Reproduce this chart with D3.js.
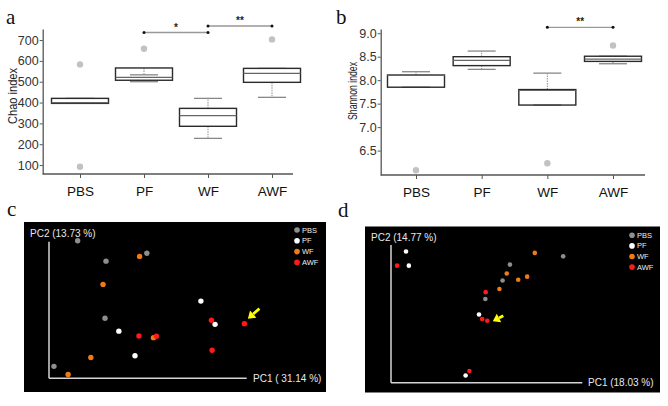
<!DOCTYPE html>
<html><head><meta charset="utf-8">
<script src="https://cdn.jsdelivr.net/npm/d3@7"></script>
<style>body{margin:0;background:#fff}svg{display:block}</style>
</head><body>
<svg id="chart" width="668" height="406"></svg>
<script>
// ---------- DATA ----------
const groups = ["PBS", "PF", "WF", "AWF"];

// Panel a: Chao index box statistics
const chaoTicks = [100, 200, 300, 400, 500, 600, 700];
const chaoWhiskerLow  = [396, 500, 228, 425];
const chaoQ1          = [396, 507, 286, 497];
const chaoMedian      = [400, 521, 337, 540];
const chaoQ3          = [420, 566, 372, 564];
const chaoWhiskerHigh = [420, 533, 420, 564];
const chaoOutliers    = [[583, 92], [658], [], [703]];

// Panel b: Shannon index box statistics
const shannonTicks = [6.5, 7.0, 7.5, 8.0, 8.5, 9.0];
const shannonWhiskerLow  = [7.85, 8.23, 7.47, 8.35];
const shannonQ1          = [7.85, 8.31, 7.47, 8.40];
const shannonMedian      = [8.10, 8.42, 7.78, 8.45];
const shannonQ3          = [8.11, 8.50, 7.80, 8.51];
const shannonWhiskerHigh = [8.18, 8.62, 8.15, 8.51];
const shannonOutliers    = [[6.08], [], [6.23], [8.74]];

// Panel c: PCA scores (PC1, PC2)
const pcaC_PBS = [[-0.213, 0.203], [-0.003, 0.166], [-0.127, 0.143], [-0.130, -0.024], [-0.285, -0.165]];
const pcaC_PF  = [[0.161, 0.026], [0.204, -0.042], [-0.088, -0.062], [-0.039, -0.134]];
const pcaC_WF  = [[-0.025, 0.157], [-0.136, 0.075], [0.017, -0.081], [-0.173, -0.139], [-0.242, -0.189]];
const pcaC_AWF = [[0.193, -0.030], [0.293, -0.040], [-0.027, -0.076], [0.026, -0.077], [0.195, -0.118]];
const pcaC_labels = ["PC1 ( 31.14 %)", "PC2 (13.73 %)"];

// Panel d: PCA scores (PC1, PC2)
const pcaD_PBS = [[0.240, 0.167], [0.073, 0.143], [0.050, 0.097], [-0.004, 0.043]];
const pcaD_PF  = [[-0.253, 0.181], [-0.244, 0.140], [-0.024, -0.002], [-0.066, -0.179]];
const pcaD_WF  = [[0.151, 0.177], [0.063, 0.117], [0.127, 0.108], [0.099, 0.099], [0.040, 0.072]];
const pcaD_AWF = [[-0.281, 0.140], [-0.003, 0.063], [-0.014, -0.015], [0.002, -0.020], [-0.054, -0.166]];
const pcaD_labels = ["PC1 (18.03 %)", "PC2 (14.77 %)"];

const groupColors = ["#8e8e8e", "#ffffff", "#ef7b17", "#ff1a1a"];

// ---------- DRAW ----------
const svg = d3.select("#chart");
svg.append("rect").attr("width", 668).attr("height", 406).attr("fill", "#fff");
const SANS = "Arial, 'Liberation Sans', sans-serif";
const SERIF = "'Times New Roman', 'Liberation Serif', serif";

function panelLabel(txt, x, y) {
  svg.append("text").attr("x", x).attr("y", y).text(txt)
    .attr("font-family", SERIF).attr("font-size", 21).attr("fill", "#111");
}

function boxPanel(o) {
  const g = svg.append("g");
  const x = d3.scalePoint().domain(groups).range(o.xRange);
  const y = d3.scaleLinear().domain(o.yDomain).range(o.yRange);
  const axisCol = "#555";
  const ya = g.append("g").attr("transform", `translate(${o.axisX},0)`)
    .call(d3.axisLeft(y).tickValues(o.ticks).tickSize(3).tickSizeOuter(0).tickPadding(1).tickFormat(o.fmt));
  ya.select(".domain").attr("stroke", axisCol).attr("stroke-width", 1.3);
  ya.selectAll(".tick line").attr("stroke", axisCol);
  ya.selectAll(".tick text").attr("font-family", SANS).attr("font-size", 12.5).attr("fill", "#333");
  const baseY = o.yRange[0];
  g.append("line").attr("x1", o.axisX).attr("x2", o.axisEnd).attr("y1", baseY).attr("y2", baseY)
    .attr("stroke", axisCol).attr("stroke-width", 1.3);
  const xa = g.append("g").attr("transform", `translate(0,${baseY})`)
    .call(d3.axisBottom(x).tickSize(4).tickPadding(8));
  xa.select(".domain").remove();
  xa.selectAll(".tick line").attr("stroke", axisCol);
  xa.selectAll(".tick text").attr("font-family", SANS).attr("font-size", 13.5).attr("fill", "#111");
  g.append("text").attr("transform", `translate(${o.labelX},${o.labelY}) rotate(-90)`)
    .attr("text-anchor", "middle").attr("dominant-baseline", "central")
    .attr("font-family", SANS).attr("font-size", o.labelSize).attr("fill", "#222")
    .attr("textLength", o.labelLen).attr("lengthAdjust", "spacingAndGlyphs").text(o.label);

  const hw = 28.5, cw = 14;
  groups.forEach((grp, i) => {
    const cx = x(grp);
    g.append("line").attr("x1", cx).attr("x2", cx).attr("y1", y(o.q3[i])).attr("y2", y(o.wHigh[i]))
      .attr("stroke", "#999").attr("stroke-dasharray", "1.5,1").attr("stroke-width", 1.1);
    g.append("line").attr("x1", cx).attr("x2", cx).attr("y1", y(o.q1[i])).attr("y2", y(o.wLow[i]))
      .attr("stroke", "#999").attr("stroke-dasharray", "1.5,1").attr("stroke-width", 1.1);
    [o.wLow[i], o.wHigh[i]].forEach(v => {
      g.append("line").attr("x1", cx - cw).attr("x2", cx + cw).attr("y1", y(v)).attr("y2", y(v))
        .attr("stroke", "#888").attr("stroke-width", 1.3);
    });
    g.append("rect").attr("x", cx - hw).attr("width", 2 * hw)
      .attr("y", y(o.q3[i])).attr("height", Math.max(1, y(o.q1[i]) - y(o.q3[i])))
      .attr("fill", "none").attr("stroke", "#2a2a2a").attr("stroke-width", 1.4);
    g.append("line").attr("x1", cx - hw).attr("x2", cx + hw).attr("y1", y(o.med[i])).attr("y2", y(o.med[i]))
      .attr("stroke", "#666").attr("stroke-width", 1.2);
    o.out[i].forEach(v => {
      g.append("circle").attr("cx", cx).attr("cy", y(v)).attr("r", 3.2).attr("fill", "#c2c2c2");
    });
  });
  o.sig.forEach(s => {
    const x1 = x(s.a), x2 = x(s.b);
    g.append("line").attr("x1", x1).attr("x2", x2).attr("y1", s.y).attr("y2", s.y)
      .attr("stroke", "#999").attr("stroke-width", 1.3);
    [x1, x2].forEach(xx => g.append("circle").attr("cx", xx).attr("cy", s.y).attr("r", 1.5).attr("fill", "#111"));
    g.append("text").attr("x", (x1 + x2) / 2).attr("y", s.y - 2).attr("text-anchor", "middle")
      .attr("font-family", SANS).attr("font-size", 10).attr("font-weight", "bold").attr("fill", "#222").text(s.t);
  });
}

boxPanel({
  xRange: [80, 272], yDomain: [57, 753], yRange: [174, 29], axisX: 42.7, axisEnd: 293,
  ticks: chaoTicks, fmt: d3.format("d"),
  q1: chaoQ1, med: chaoMedian, q3: chaoQ3, wLow: chaoWhiskerLow, wHigh: chaoWhiskerHigh, out: chaoOutliers,
  label: "Chao index", labelX: 12.5, labelY: 96, labelLen: 56, labelSize: 12.5,
  sig: [{a: "PF", b: "WF", y: 32.5, t: "*"}, {a: "WF", b: "AWF", y: 26, t: "**"}]
});
boxPanel({
  xRange: [416, 613], yDomain: [5.98, 9.09], yRange: [175, 29], axisX: 380.7, axisEnd: 645,
  ticks: shannonTicks, fmt: d3.format(".1f"),
  q1: shannonQ1, med: shannonMedian, q3: shannonQ3, wLow: shannonWhiskerLow, wHigh: shannonWhiskerHigh, out: shannonOutliers,
  label: "Shannon index", labelX: 352.5, labelY: 91, labelLen: 58, labelSize: 12,
  sig: [{a: "WF", b: "AWF", y: 27.3, t: "**"}]
});

panelLabel("a", 6, 24);
panelLabel("b", 336, 24);
panelLabel("c", 7, 216);
panelLabel("d", 338, 217);

function arrow(g, tipX, tipY, tailX, tailY) {
  const dx = tipX - tailX, dy = tipY - tailY, L = Math.hypot(dx, dy);
  const ux = dx / L, uy = dy / L, px = -uy, py = ux;
  const hl = 7, hw = 4.8;
  const bx = tipX - ux * hl, by = tipY - uy * hl;
  g.append("line").attr("x1", tailX).attr("y1", tailY).attr("x2", bx).attr("y2", by)
    .attr("stroke", "#ffff00").attr("stroke-width", 2.8);
  g.append("path").attr("d", `M${tipX},${tipY}L${bx + px * hw},${by + py * hw}L${bx - px * hw},${by - py * hw}Z`)
    .attr("fill", "#ffff00");
}

function pcaPanel(o) {
  const g = svg.append("g");
  g.append("rect").attr("x", o.bg[0]).attr("y", o.bg[1]).attr("width", o.bg[2]).attr("height", o.bg[3]).attr("fill", "#000");
  const x = d3.scaleLinear().domain([-0.3, 0.3]).range(o.xRange);
  const y = d3.scaleLinear().domain([-0.2, 0.2]).range(o.yRange);
  const axCol = "#d4d4d4";
  g.append("line").attr("x1", o.xRange[0]).attr("x2", o.xRange[0]).attr("y1", o.yRange[0]).attr("y2", o.yRange[1])
    .attr("stroke", axCol).attr("stroke-width", 1.5);
  g.append("line").attr("x1", o.xRange[0]).attr("x2", o.xRange[1]).attr("y1", o.yRange[0]).attr("y2", o.yRange[0])
    .attr("stroke", axCol).attr("stroke-width", 1.5);
  g.append("text").attr("x", o.pc1Pos[0]).attr("y", o.pc1Pos[1]).attr("dominant-baseline", "central")
    .attr("font-family", SANS).attr("font-size", 10).attr("fill", "#e8e8e8").text(o.labels[0]);
  g.append("text").attr("x", o.pc2Pos[0]).attr("y", o.pc2Pos[1]).attr("dominant-baseline", "central")
    .attr("font-family", SANS).attr("font-size", 10).attr("fill", "#e8e8e8").text(o.labels[1]);
  o.sets.forEach((pts, gi) => {
    g.selectAll(null).data(pts).enter().append("circle")
      .attr("cx", d => x(d[0])).attr("cy", d => y(d[1])).attr("r", o.r).attr("fill", groupColors[gi]);
  });
  groups.forEach((grp, i) => {
    const ly = o.legend[1] + i * o.legend[2];
    g.append("circle").attr("cx", o.legend[0]).attr("cy", ly).attr("r", 2.8).attr("fill", groupColors[i]);
    g.append("text").attr("x", o.legend[0] + 5).attr("y", ly).attr("dominant-baseline", "central")
      .attr("font-family", SANS).attr("font-size", 7.5).attr("fill", "#eee").text(grp);
  });
  const t = o.arrowTarget;
  const tx = x(t[0]), ty = y(t[1]);
  arrow(g, tx + o.arrow[0], ty + o.arrow[1], tx + o.arrow[2], ty + o.arrow[3]);
}

pcaPanel({
  bg: [24, 222, 302, 170], xRange: [49, 246.7], yRange: [378.3, 241.7], r: 2.7,
  sets: [pcaC_PBS, pcaC_PF, pcaC_WF, pcaC_AWF], labels: pcaC_labels,
  pc1Pos: [253, 378], pc2Pos: [30, 233.5],
  legend: [297, 230, 10.8],
  arrowTarget: pcaC_AWF[1], arrow: [3.5, -5, 15, -15]
});
pcaPanel({
  bg: [365, 226.5, 295, 166], xRange: [391, 582.3], yRange: [382.7, 245], r: 2.3,
  sets: [pcaD_PBS, pcaD_PF, pcaD_WF, pcaD_AWF], labels: pcaD_labels,
  pc1Pos: [588, 382.5], pc2Pos: [371, 237.7],
  legend: [632, 235.3, 10.6],
  arrowTarget: pcaD_AWF[3], arrow: [5.5, 0.5, 16, -5]
});
</script>
</body></html>
